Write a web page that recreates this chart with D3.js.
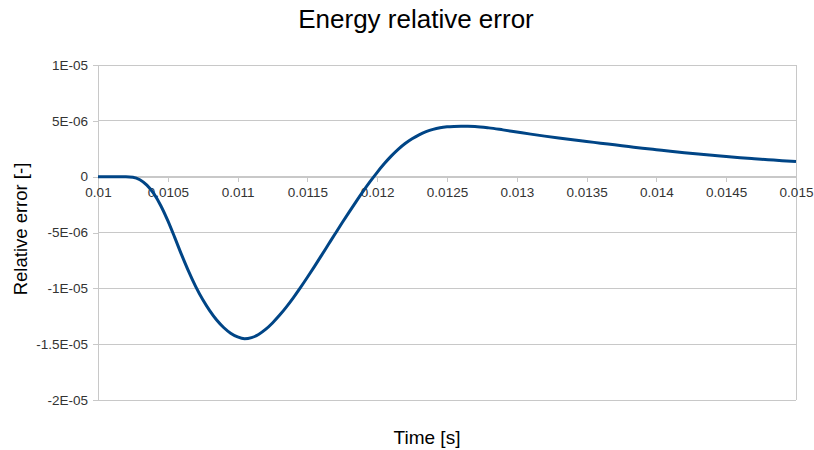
<!DOCTYPE html>
<html>
<head>
<meta charset="utf-8">
<script src="https://cdn.jsdelivr.net/npm/d3@7"></script>
<style>
  html, body { margin: 0; padding: 0; background: #fff; }
  svg { display: block; font-family: "Liberation Sans", Arial, sans-serif; }
</style>
</head>
<body>
<svg id="chart" width="814" height="450"></svg>
<script>
// Simulation time samples [s]
const times = [
  0.01, 0.0101, 0.0102, 0.01025, 0.0103, 0.01035, 0.0104, 0.01045,
  0.0105, 0.01055, 0.0106, 0.01065, 0.0107, 0.01075, 0.0108, 0.01085,
  0.0109, 0.01095, 0.011, 0.01105, 0.0111, 0.01115, 0.0112, 0.01125,
  0.0113, 0.01135, 0.0114, 0.01145, 0.0115, 0.01155, 0.0116, 0.01165,
  0.0117, 0.01175, 0.0118, 0.01185, 0.0119, 0.01195, 0.012, 0.01205,
  0.0121, 0.01215, 0.0122, 0.01225, 0.0123, 0.01235, 0.0124, 0.01245,
  0.0125, 0.01255, 0.0126, 0.01265, 0.0127, 0.0128, 0.0129, 0.013,
  0.0131, 0.0132, 0.0133, 0.0134, 0.0135, 0.0136, 0.0137, 0.0138,
  0.0139, 0.014, 0.0141, 0.0142, 0.0143, 0.0144, 0.0145, 0.0146,
  0.0147, 0.0148, 0.0149, 0.015
];
// Energy relative error [-] at each time sample
const relError = [
  0, 0, 0, -0.045e-6, -0.27e-6, -0.76e-6, -1.52e-6, -2.60e-6,
  -3.94e-6, -5.46e-6, -7.03e-6, -8.51e-6, -9.85e-6, -11.01e-6, -12.00e-6, -12.84e-6,
  -13.51e-6, -14.02e-6, -14.35e-6, -14.51e-6, -14.41e-6, -14.13e-6, -13.68e-6, -13.10e-6,
  -12.42e-6, -11.66e-6, -10.83e-6, -9.94e-6, -9.01e-6, -8.05e-6, -7.07e-6, -6.08e-6,
  -5.09e-6, -4.11e-6, -3.15e-6, -2.21e-6, -1.30e-6, -0.43e-6, 0.39e-6, 1.15e-6,
  1.84e-6, 2.45e-6, 2.97e-6, 3.40e-6, 3.75e-6, 4.03e-6, 4.24e-6, 4.38e-6,
  4.46e-6, 4.50e-6, 4.52e-6, 4.52e-6, 4.50e-6, 4.37e-6, 4.19e-6, 4.00e-6,
  3.81e-6, 3.63e-6, 3.46e-6, 3.30e-6, 3.15e-6, 3.00e-6, 2.85e-6, 2.70e-6,
  2.55e-6, 2.41e-6, 2.27e-6, 2.14e-6, 2.02e-6, 1.91e-6, 1.80e-6, 1.70e-6,
  1.61e-6, 1.52e-6, 1.43e-6, 1.35e-6
];
// Axis ticks
const xTicks = [0.01, 0.0105, 0.011, 0.0115, 0.012, 0.0125, 0.013, 0.0135, 0.014, 0.0145, 0.015];
const xTickLabels = ["0.01", "0.0105", "0.011", "0.0115", "0.012", "0.0125", "0.013", "0.0135", "0.014", "0.0145", "0.015"];
const yTicks = [1e-5, 5e-6, 0, -5e-6, -1e-5, -1.5e-5, -2e-5];
const yTickLabels = ["1E-05", "5E-06", "0", "-5E-06", "-1E-05", "-1.5E-05", "-2E-05"];

const svg = d3.select("#chart");
const plot = { left: 98, right: 796, top: 65, bottom: 400 };

const x = d3.scaleLinear().domain([0.01, 0.015]).range([plot.left, plot.right]);
const y = d3.scaleLinear().domain([-2e-5, 1e-5]).range([plot.bottom, plot.top]);

const gridColor = "#c8c8c8";
const textColor = "#333";
const fontFamily = "'Liberation Sans', Arial, sans-serif";

// Horizontal grid lines
svg.append("g")
  .selectAll("line")
  .data(yTicks)
  .join("line")
  .attr("x1", plot.left).attr("x2", plot.right)
  .attr("y1", d => y(d)).attr("y2", d => y(d))
  .attr("stroke", gridColor).attr("stroke-width", 1)
  .attr("shape-rendering", "crispEdges");

// Right edge of the plot area
svg.append("line")
  .attr("x1", plot.right).attr("x2", plot.right)
  .attr("y1", plot.top).attr("y2", plot.bottom)
  .attr("stroke", gridColor).attr("shape-rendering", "crispEdges");

// Y axis on the left edge
const yAxis = d3.axisLeft(y)
  .tickValues(yTicks)
  .tickSize(5)
  .tickPadding(5)
  .tickFormat((d, i) => yTickLabels[i]);
const gy = svg.append("g").attr("transform", `translate(${plot.left},0)`).call(yAxis);
gy.select(".domain").attr("stroke", gridColor).attr("shape-rendering", "crispEdges");
gy.selectAll(".tick line").attr("stroke", gridColor).attr("shape-rendering", "crispEdges");
gy.selectAll(".tick text")
  .attr("fill", textColor)
  .style("font-size", "13.5px")
  .style("font-family", fontFamily);

// X axis along the zero line
const xAxis = d3.axisBottom(x)
  .tickValues(xTicks)
  .tickSize(5)
  .tickPadding(6)
  .tickSizeOuter(0)
  .tickFormat((d, i) => xTickLabels[i]);
const gx = svg.append("g").attr("transform", `translate(0,${y(0)})`).call(xAxis);
gx.select(".domain").attr("stroke", gridColor).attr("shape-rendering", "crispEdges");
gx.selectAll(".tick line").attr("stroke", gridColor).attr("shape-rendering", "crispEdges");
gx.selectAll(".tick text")
  .attr("fill", textColor)
  .style("font-size", "13.5px")
  .style("font-family", fontFamily);

// Error curve
const data = times.map((t, i) => ({ t, v: relError[i] }));
const line = d3.line()
  .x(d => x(d.t))
  .y(d => y(d.v))
  .curve(d3.curveMonotoneX);
svg.append("path")
  .datum(data)
  .attr("d", line)
  .attr("fill", "none")
  .attr("stroke", "#004586")
  .attr("stroke-width", 3)
  .attr("stroke-linejoin", "round");

// Titles
svg.append("text")
  .attr("x", 416).attr("y", 28)
  .attr("text-anchor", "middle")
  .style("font-size", "26px")
  .attr("fill", "#000")
  .text("Energy relative error");

svg.append("text")
  .attr("x", 427).attr("y", 444)
  .attr("text-anchor", "middle")
  .style("font-size", "19px")
  .attr("fill", "#000")
  .text("Time [s]");

svg.append("text")
  .attr("transform", "translate(27,229) rotate(-90)")
  .attr("text-anchor", "middle")
  .style("font-size", "18.5px")
  .attr("fill", "#000")
  .text("Relative error [-]");
</script>
</body>
</html>
